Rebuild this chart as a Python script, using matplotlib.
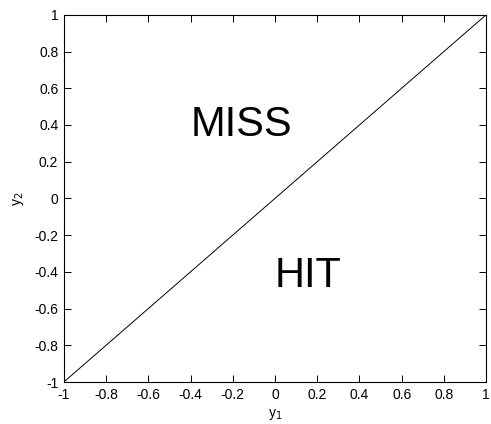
import matplotlib
matplotlib.use("Agg")
import matplotlib.pyplot as plt

plt.rcParams["font.family"] = ["Liberation Sans", "DejaVu Sans"]

# boundary line y2 = y1
line_x = [-1, 1]
line_y = [-1, 1]
ticks = [-1, -0.8, -0.6, -0.4, -0.2, 0, 0.2, 0.4, 0.6, 0.8, 1]
tick_labels = ["-1", "-0.8", "-0.6", "-0.4", "-0.2", "0", "0.2", "0.4", "0.6", "0.8", "1"]
regions = [("MISS", -0.4, 0.4), ("HIT", 0.0, -0.42)]

fig = plt.figure(figsize=(4.91, 4.24), dpi=100)
ax = fig.add_axes([0.130, 0.099, 0.860, 0.866])

ax.plot(line_x, line_y, color="black", linewidth=0.7)
for label, x, y in regions:
    ax.text(x, y, label, fontsize=30, ha="left", va="center")

ax.set_xlim(-1, 1)
ax.set_ylim(-1, 1)
ax.set_xticks(ticks)
ax.set_xticklabels(tick_labels)
ax.set_yticks(ticks)
ax.set_yticklabels(tick_labels)
ax.tick_params(direction="in", top=True, right=True, length=5, width=0.7, labelsize=10, pad=4)
for s in ax.spines.values():
    s.set_linewidth(0.8)

ax.set_xlabel("y$_1$", fontsize=10, labelpad=4)
ax.set_ylabel("y$_2$", fontsize=10, labelpad=6)

fig.savefig("out.png", dpi=100)
